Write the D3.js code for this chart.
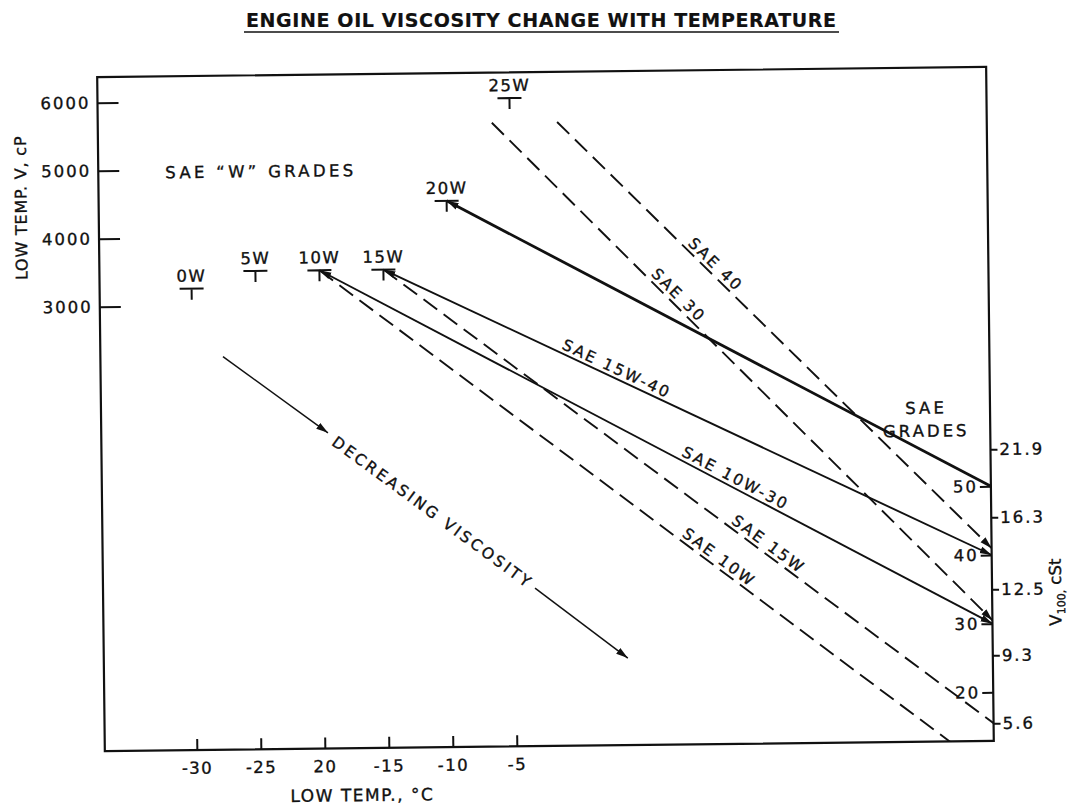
<!DOCTYPE html>
<html>
<head>
<meta charset="utf-8">
<script src="https://cdn.jsdelivr.net/npm/d3@7"></script>
<style>
body { margin: 0; background: #fff; }
svg text { font-family: "DejaVu Sans", sans-serif; fill: #111; stroke: #111; stroke-width: 0.35px; }
</style>
</head>
<body>
<div id="chart"></div>
<script>
// SAE "W" grades: max low temp viscosity (cP) at temperature (C)
var wGrades = ["0W", "5W", "10W", "15W", "20W", "25W"];
var wTemps = [-30, -25, -20, -15, -10, -5];
var wVisc = [3250, 3500, 3500, 3500, 4500, 6000];

// axis ticks
var cpTicks = [3000, 4000, 5000, 6000];
var tempTicks = [-30, -25, -20, -15, -10, -5];
var tempTickLbls = ["-30", "-25", "20", "-15", "-10", "-5"];
var saeGrades = [50, 40, 30, 20];
var cstTicks = [21.9, 16.3, 12.5, 9.3, 5.6];
var cstAtGrade = [55.4, 45.5, 35, 25.4, 15.5];   // where each cSt limit sits on the grade axis

// viscosity lines: start (temp, cP) on the left, end at a grade on the right axis
var lineNames = ["SAE 20W-50", "SAE 15W-40", "SAE 10W-30", "SAE 40", "SAE 30", "SAE 15W", "SAE 10W"];
var lineLbls = ["", "SAE 15W-40", "SAE 10W-30", "SAE 40", "SAE 30", "SAE 15W", "SAE 10W"];
var lineKind = ["multi", "multi", "multi", "single", "single", "single", "single"];
var lineStartT = [-10, -15, -20, -1.3, -6.4, -15, -20];
var lineStartV = [4500, 3500, 3500, 5640, 5640, 3500, 3500];
var lineEndGrade = [50, 40, 30, 41, 30.5, 15.5, 8];

// Set up SVG params
var svgWdt = 1078;
var svgHgt = 805;
var frame = { left: 101, top: 72, right: 990, bottom: 746 };

var svg = d3.select("#chart").append("svg")
    .attr("width", svgWdt)
    .attr("height", svgHgt);

// arrow head marker
var defs = svg.append("defs");
defs.append("marker")
    .attr("id", "arw")
    .attr("viewBox", "0 -4 12 8")
    .attr("refX", 12).attr("refY", 0)
    .attr("markerWidth", 12).attr("markerHeight", 8)
    .attr("markerUnits", "userSpaceOnUse")
    .attr("orient", "auto-start-reverse")
    .append("path")
        .attr("d", "M0,-3.5L12,0L0,3.5Z")
        .attr("fill", "#111");
defs.append("clipPath").attr("id", "frameClip")
    .append("rect")
        .attr("x", frame.left).attr("y", frame.top)
        .attr("width", frame.right - frame.left)
        .attr("height", frame.bottom - frame.top);

// Title (level)
svg.append("text")
    .attr("x", 541).attr("y", 27)
    .attr("text-anchor", "middle")
    .attr("textLength", 590)
    .attr("lengthAdjust", "spacing")
    .style("font-size", "19px")
    .style("font-weight", "bold")
    .style("stroke-width", "0.2px")
    .text("ENGINE OIL VISCOSITY CHANGE WITH TEMPERATURE");
svg.append("line")
    .attr("x1", 244).attr("x2", 839)
    .attr("y1", 32).attr("y2", 32)
    .attr("stroke", "#111").attr("stroke-width", 1.6);

// the scanned chart sits slightly tilted
var chtGrp = svg.append("g")
    .attr("transform", "rotate(-0.65, 545, 410)");

// scales
var xScale = d3.scaleLinear().domain([-30, -5]).range([193, 513]);
var yScale = d3.scaleLinear().domain([3000, 6000]).range([301.7, 97.7]);
var gScale = d3.scaleLinear().domain([20, 50]).range([697.4, 491.4]);

// frame
chtGrp.append("rect")
    .attr("x", frame.left).attr("y", frame.top)
    .attr("width", frame.right - frame.left)
    .attr("height", frame.bottom - frame.top)
    .attr("fill", "none")
    .attr("stroke", "#111")
    .attr("stroke-width", 2.2);

function styleAxis(ax, size, spacing) {
    ax.select(".domain").remove();
    ax.attr("font-family", null).attr("font-size", null);
    ax.selectAll("line").attr("stroke", "#111").attr("stroke-width", 2);
    ax.selectAll("text")
        .style("font-size", size + "px")
        .style("letter-spacing", spacing + "px");
    return ax;
}

// left axis (cP)
var lftRule = d3.axisLeft(yScale).tickValues(cpTicks).tickSize(-21).tickPadding(7)
    .tickFormat(d3.format("d"));
styleAxis(chtGrp.append("g")
    .attr("transform", `translate(${frame.left}, 0)`)
    .call(lftRule), 16.5, 2);

// bottom axis (temp)
var botRule = d3.axisBottom(xScale).tickValues(tempTicks).tickSize(-11).tickPadding(12)
    .tickFormat((d, i) => tempTickLbls[i]);
styleAxis(chtGrp.append("g")
    .attr("transform", `translate(0, ${frame.bottom})`)
    .call(botRule), 16.5, 1.5);

// right axis, SAE grades inside
var rgtRule = d3.axisLeft(gScale).tickValues(saeGrades).tickSize(11).tickPadding(2);
styleAxis(chtGrp.append("g")
    .attr("transform", `translate(${frame.right}, 0)`)
    .call(rgtRule), 16.5, 2);

// right axis, cSt limits outside
var cstRule = d3.axisRight(gScale).tickValues(cstAtGrade).tickSize(7).tickPadding(2)
    .tickFormat((d, i) => cstTicks[i]);
styleAxis(chtGrp.append("g")
    .attr("transform", `translate(${frame.right}, 0)`)
    .call(cstRule), 16.5, 2);

// axis titles
chtGrp.append("text")
    .attr("transform", "translate(29, 202) rotate(-90)")
    .attr("text-anchor", "middle")
    .style("font-size", "16px")
    .style("letter-spacing", "0.8px")
    .text("LOW TEMP. V, cP");

chtGrp.append("text")
    .attr("x", 358).attr("y", 799)
    .attr("text-anchor", "middle")
    .style("font-size", "17px")
    .style("letter-spacing", "1.5px")
    .text("LOW TEMP., \u00b0C");

var vLbl = chtGrp.append("text")
    .attr("transform", "translate(1059, 598) rotate(-90)")
    .attr("text-anchor", "middle")
    .style("font-size", "16.5px");
vLbl.append("tspan").text("V");
vLbl.append("tspan").attr("dy", 4).style("font-size", "11px").text("100,");
vLbl.append("tspan").attr("dy", -4).text(" cSt");

// viscosity lines
var lines = lineNames.map((n, i) => ({
    name: n,
    lbl: lineLbls[i],
    kind: lineKind[i],
    p0: [xScale(lineStartT[i]), yScale(lineStartV[i])],
    p1: [frame.right, gScale(lineEndGrade[i])]
}));
var lineStyle = {
    multi: { dash: null },
    single: { dash: "17,8" }
};
var arrowStart = ["SAE 20W-50", "SAE 15W-40", "SAE 10W-30"];
var arrowEnd = ["SAE 15W-40", "SAE 10W-30", "SAE 40", "SAE 30"];

var lineGen = d3.line();
chtGrp.append("g")
    .attr("clip-path", "url(#frameClip)")
    .selectAll("path").data(lines)
    .enter()
    .append("path")
        .attr("d", d => lineGen([d.p0, d.p1]))
        .attr("fill", "none")
        .attr("stroke", "#111")
        .attr("stroke-width", d => d.name === "SAE 20W-50" ? 2.8 : 1.9)
        .attr("stroke-dasharray", d => lineStyle[d.kind].dash)
        .attr("marker-start", d => arrowStart.includes(d.name) ? "url(#arw)" : null)
        .attr("marker-end", d => arrowEnd.includes(d.name) ? "url(#arw)" : null);

// labels along the lines
var lblAt = { "SAE 15W-40": 0.377, "SAE 10W-30": 0.612, "SAE 40": 0.35, "SAE 30": 0.36, "SAE 15W": 0.622, "SAE 10W": 0.584 };
chtGrp.selectAll(".lineLbl").data(lines.filter(d => d.lbl !== ""))
    .enter()
    .append("text")
        .attr("class", "lineLbl")
        .attr("transform", d => {
            var t = lblAt[d.name];
            var x = d.p0[0] + t * (d.p1[0] - d.p0[0]);
            var y = d.p0[1] + t * (d.p1[1] - d.p0[1]);
            var ang = Math.atan2(d.p1[1] - d.p0[1], d.p1[0] - d.p0[0]) * 180 / Math.PI;
            return `translate(${x}, ${y}) rotate(${ang})`;
        })
        .attr("y", -4)
        .attr("text-anchor", "middle")
        .style("font-size", "15.5px")
        .style("letter-spacing", "2.3px")
        .text(d => d.lbl);

// W grade markers
var wGrp = chtGrp.selectAll(".wMark").data(wGrades)
    .enter()
    .append("g")
        .attr("class", "wMark")
        .attr("transform", (d, i) => `translate(${xScale(wTemps[i])}, ${yScale(wVisc[i])})`);
wGrp.append("path")
    .attr("d", "M-12,0H12M0,0V11")
    .attr("fill", "none")
    .attr("stroke", "#111")
    .attr("stroke-width", 2);
wGrp.append("text")
    .attr("y", -7)
    .attr("text-anchor", "middle")
    .style("font-size", "16.5px")
    .style("letter-spacing", "1.5px")
    .text(d => d);

// notes
chtGrp.append("text")
    .attr("x", 168).attr("y", 174)
    .style("font-size", "16.5px")
    .style("letter-spacing", "3.3px")
    .text("SAE \u201cW\u201d GRADES");
chtGrp.append("text")
    .attr("x", 926).attr("y", 418)
    .attr("text-anchor", "middle")
    .style("font-size", "16.5px")
    .style("letter-spacing", "3px")
    .text("SAE");
chtGrp.append("text")
    .attr("x", 926).attr("y", 441)
    .attr("text-anchor", "middle")
    .style("font-size", "16.5px")
    .style("letter-spacing", "3px")
    .text("GRADES");

// decreasing viscosity arrow
var noteArrows = [[[223.6, 353], [327.7, 430.4]], [[533, 588], [625, 659]]];
chtGrp.selectAll(".noteArw").data(noteArrows)
    .enter()
    .append("path")
        .attr("class", "noteArw")
        .attr("d", d => lineGen(d))
        .attr("stroke", "#111")
        .attr("stroke-width", 1.5)
        .attr("marker-end", "url(#arw)");
chtGrp.append("text")
    .attr("transform", "translate(430, 510.6) rotate(37)")
    .attr("text-anchor", "middle")
    .attr("dominant-baseline", "central")
    .attr("textLength", 242)
    .attr("lengthAdjust", "spacing")
    .style("font-size", "15.5px")
    .text("DECREASING VISCOSITY");
</script>
</body>
</html>
